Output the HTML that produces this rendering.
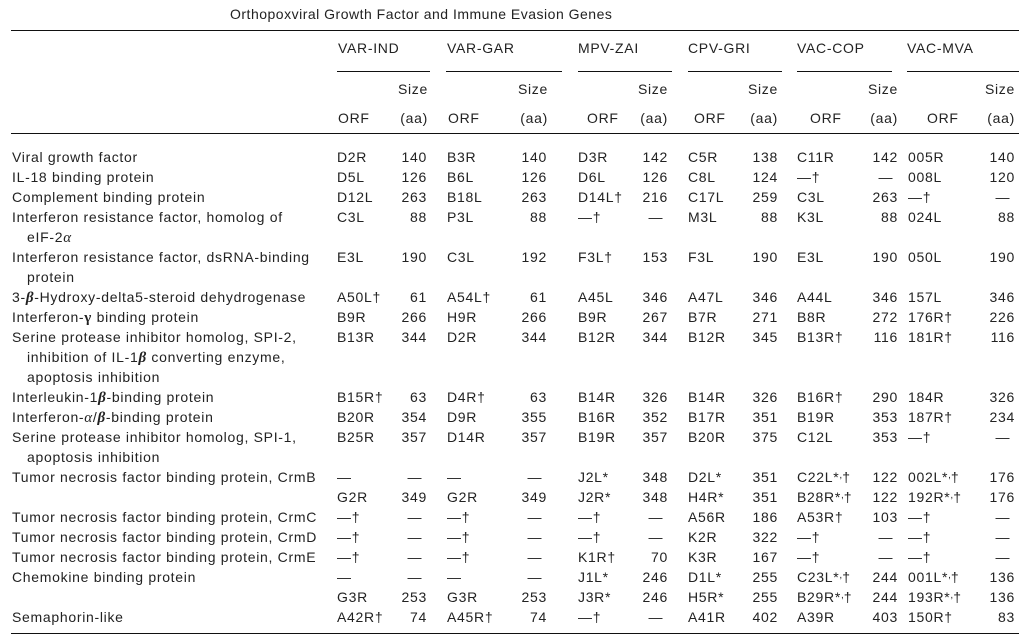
<!DOCTYPE html>
<html>
<head>
<meta charset="utf-8">
<style>
html,body{margin:0;padding:0;background:#fff;}
body{width:1029px;height:638px;position:relative;overflow:hidden;font-family:"Liberation Sans",Arial,sans-serif;color:#222;}
.t{position:absolute;font-size:14px;letter-spacing:0.7px;line-height:16px;white-space:nowrap;}
.row{position:absolute;left:0;width:1029px;height:16px;}
.row>div{position:absolute;top:0;font-size:14px;letter-spacing:0.7px;line-height:16px;white-space:nowrap;}
.rule{position:absolute;height:1.3px;background:#111;}
.n{left:12px}.ni{left:27px}
.o1{left:337px}.o2{left:447px}.o3{left:578px}.o4{left:688px}.o5{left:797px}.o6{left:908px}
.s1{right:602px}.s2{right:482px}.s3{right:361px}.s4{right:251px}.s5{right:131px}.s6{right:14px}
.row>div.d{width:25px;text-align:center;letter-spacing:0}
.g{font-family:"Liberation Serif",serif;font-style:italic;font-size:15px;}
.gb{font-family:"Liberation Serif",serif;font-style:italic;font-weight:bold;font-size:15px;}
.sc{position:relative;top:-4px;font-size:10px;letter-spacing:0;}
</style>
</head>
<body>
<div class="t" style="left:230px;top:6px;letter-spacing:0.5px;">Orthopoxviral Growth Factor and Immune Evasion Genes</div>
<div class="rule" style="left:11px;top:30px;width:1008px;"></div>

<div class="t" style="left:338px;top:40px;">VAR-IND</div>
<div class="t" style="left:447px;top:40px;">VAR-GAR</div>
<div class="t" style="left:578px;top:40px;">MPV-ZAI</div>
<div class="t" style="left:688px;top:40px;">CPV-GRI</div>
<div class="t" style="left:797px;top:40px;">VAC-COP</div>
<div class="t" style="left:907px;top:40px;">VAC-MVA</div>

<div class="rule" style="left:337px;top:71px;width:93px;"></div>
<div class="rule" style="left:446px;top:71px;width:116px;"></div>
<div class="rule" style="left:578px;top:71px;width:94px;"></div>
<div class="rule" style="left:688px;top:71px;width:94px;"></div>
<div class="rule" style="left:797px;top:71px;width:95px;"></div>
<div class="rule" style="left:907px;top:71px;width:112px;"></div>

<div class="t" style="right:601px;top:81px;">Size</div>
<div class="t" style="right:481px;top:81px;">Size</div>
<div class="t" style="right:361px;top:81px;">Size</div>
<div class="t" style="right:251px;top:81px;">Size</div>
<div class="t" style="right:131px;top:81px;">Size</div>
<div class="t" style="right:14px;top:81px;">Size</div>

<div class="t" style="left:338px;top:110px;">ORF</div>
<div class="t" style="left:448px;top:110px;">ORF</div>
<div class="t" style="left:587px;top:110px;">ORF</div>
<div class="t" style="left:694px;top:110px;">ORF</div>
<div class="t" style="left:810px;top:110px;">ORF</div>
<div class="t" style="left:927px;top:110px;">ORF</div>
<div class="t" style="right:601px;top:110px;">(aa)</div>
<div class="t" style="right:481px;top:110px;">(aa)</div>
<div class="t" style="right:361px;top:110px;">(aa)</div>
<div class="t" style="right:251px;top:110px;">(aa)</div>
<div class="t" style="right:131px;top:110px;">(aa)</div>
<div class="t" style="right:14px;top:110px;">(aa)</div>

<div class="rule" style="left:11px;top:133px;width:1008px;"></div>

<!-- row 0 -->
<div class="row" style="top:149px;">
<div class="n">Viral growth factor</div>
<div class="o1">D2R</div><div class="s1">140</div>
<div class="o2">B3R</div><div class="s2">140</div>
<div class="o3">D3R</div><div class="s3">142</div>
<div class="o4">C5R</div><div class="s4">138</div>
<div class="o5">C11R</div><div class="s5">142</div>
<div class="o6">005R</div><div class="s6">140</div>
</div>
<!-- row 1 -->
<div class="row" style="top:169px;">
<div class="n">IL-18 binding protein</div>
<div class="o1">D5L</div><div class="s1">126</div>
<div class="o2">B6L</div><div class="s2">126</div>
<div class="o3">D6L</div><div class="s3">126</div>
<div class="o4">C8L</div><div class="s4">124</div>
<div class="o5">—†</div><div class="s5 d">—</div>
<div class="o6">008L</div><div class="s6">120</div>
</div>
<!-- row 2 -->
<div class="row" style="top:189px;">
<div class="n">Complement binding protein</div>
<div class="o1">D12L</div><div class="s1">263</div>
<div class="o2">B18L</div><div class="s2">263</div>
<div class="o3">D14L†</div><div class="s3">216</div>
<div class="o4">C17L</div><div class="s4">259</div>
<div class="o5">C3L</div><div class="s5">263</div>
<div class="o6">—†</div><div class="s6 d">—</div>
</div>
<!-- row 3 -->
<div class="row" style="top:209px;">
<div class="n">Interferon resistance factor, homolog of</div>
<div class="o1">C3L</div><div class="s1">88</div>
<div class="o2">P3L</div><div class="s2">88</div>
<div class="o3">—†</div><div class="s3 d">—</div>
<div class="o4">M3L</div><div class="s4">88</div>
<div class="o5">K3L</div><div class="s5">88</div>
<div class="o6">024L</div><div class="s6">88</div>
</div>
<div class="row" style="top:229px;"><div class="ni">eIF-2<span class="g">α</span></div></div>
<!-- row 5 -->
<div class="row" style="top:249px;">
<div class="n">Interferon resistance factor, dsRNA-binding</div>
<div class="o1">E3L</div><div class="s1">190</div>
<div class="o2">C3L</div><div class="s2">192</div>
<div class="o3">F3L†</div><div class="s3">153</div>
<div class="o4">F3L</div><div class="s4">190</div>
<div class="o5">E3L</div><div class="s5">190</div>
<div class="o6">050L</div><div class="s6">190</div>
</div>
<div class="row" style="top:269px;"><div class="ni">protein</div></div>
<!-- row 7 -->
<div class="row" style="top:289px;">
<div class="n">3-<span class="gb">β</span>-Hydroxy-delta5-steroid dehydrogenase</div>
<div class="o1">A50L†</div><div class="s1">61</div>
<div class="o2">A54L†</div><div class="s2">61</div>
<div class="o3">A45L</div><div class="s3">346</div>
<div class="o4">A47L</div><div class="s4">346</div>
<div class="o5">A44L</div><div class="s5">346</div>
<div class="o6">157L</div><div class="s6">346</div>
</div>
<!-- row 8 -->
<div class="row" style="top:309px;">
<div class="n">Interferon-<span class="gb" style="font-style:normal;">γ</span> binding protein</div>
<div class="o1">B9R</div><div class="s1">266</div>
<div class="o2">H9R</div><div class="s2">266</div>
<div class="o3">B9R</div><div class="s3">267</div>
<div class="o4">B7R</div><div class="s4">271</div>
<div class="o5">B8R</div><div class="s5">272</div>
<div class="o6">176R†</div><div class="s6">226</div>
</div>
<!-- row 9 -->
<div class="row" style="top:329px;">
<div class="n">Serine protease inhibitor homolog, SPI-2,</div>
<div class="o1">B13R</div><div class="s1">344</div>
<div class="o2">D2R</div><div class="s2">344</div>
<div class="o3">B12R</div><div class="s3">344</div>
<div class="o4">B12R</div><div class="s4">345</div>
<div class="o5">B13R†</div><div class="s5">116</div>
<div class="o6">181R†</div><div class="s6">116</div>
</div>
<div class="row" style="top:349px;"><div class="ni">inhibition of IL-1<span class="gb">β</span> converting enzyme,</div></div>
<div class="row" style="top:369px;"><div class="ni">apoptosis inhibition</div></div>
<!-- row 12 -->
<div class="row" style="top:389px;">
<div class="n">Interleukin-1<span class="gb">β</span>-binding protein</div>
<div class="o1">B15R†</div><div class="s1">63</div>
<div class="o2">D4R†</div><div class="s2">63</div>
<div class="o3">B14R</div><div class="s3">326</div>
<div class="o4">B14R</div><div class="s4">326</div>
<div class="o5">B16R†</div><div class="s5">290</div>
<div class="o6">184R</div><div class="s6">326</div>
</div>
<!-- row 13 -->
<div class="row" style="top:409px;">
<div class="n">Interferon-<span class="g">α</span>/<span class="gb">β</span>-binding protein</div>
<div class="o1">B20R</div><div class="s1">354</div>
<div class="o2">D9R</div><div class="s2">355</div>
<div class="o3">B16R</div><div class="s3">352</div>
<div class="o4">B17R</div><div class="s4">351</div>
<div class="o5">B19R</div><div class="s5">353</div>
<div class="o6">187R†</div><div class="s6">234</div>
</div>
<!-- row 14 -->
<div class="row" style="top:429px;">
<div class="n">Serine protease inhibitor homolog, SPI-1,</div>
<div class="o1">B25R</div><div class="s1">357</div>
<div class="o2">D14R</div><div class="s2">357</div>
<div class="o3">B19R</div><div class="s3">357</div>
<div class="o4">B20R</div><div class="s4">375</div>
<div class="o5">C12L</div><div class="s5">353</div>
<div class="o6">—†</div><div class="s6 d">—</div>
</div>
<div class="row" style="top:449px;"><div class="ni">apoptosis inhibition</div></div>
<!-- row 16 -->
<div class="row" style="top:469px;">
<div class="n">Tumor necrosis factor binding protein, CrmB</div>
<div class="o1">—</div><div class="s1 d">—</div>
<div class="o2">—</div><div class="s2 d">—</div>
<div class="o3">J2L*</div><div class="s3">348</div>
<div class="o4">D2L*</div><div class="s4">351</div>
<div class="o5">C22L*<span class="sc">,</span>†</div><div class="s5">122</div>
<div class="o6">002L*<span class="sc">,</span>†</div><div class="s6">176</div>
</div>
<div class="row" style="top:489px;">
<div class="o1">G2R</div><div class="s1">349</div>
<div class="o2">G2R</div><div class="s2">349</div>
<div class="o3">J2R*</div><div class="s3">348</div>
<div class="o4">H4R*</div><div class="s4">351</div>
<div class="o5">B28R*<span class="sc">,</span>†</div><div class="s5">122</div>
<div class="o6">192R*<span class="sc">,</span>†</div><div class="s6">176</div>
</div>
<!-- row 18 -->
<div class="row" style="top:509px;">
<div class="n">Tumor necrosis factor binding protein, CrmC</div>
<div class="o1">—†</div><div class="s1 d">—</div>
<div class="o2">—†</div><div class="s2 d">—</div>
<div class="o3">—†</div><div class="s3 d">—</div>
<div class="o4">A56R</div><div class="s4">186</div>
<div class="o5">A53R†</div><div class="s5">103</div>
<div class="o6">—†</div><div class="s6 d">—</div>
</div>
<div class="row" style="top:529px;">
<div class="n">Tumor necrosis factor binding protein, CrmD</div>
<div class="o1">—†</div><div class="s1 d">—</div>
<div class="o2">—†</div><div class="s2 d">—</div>
<div class="o3">—†</div><div class="s3 d">—</div>
<div class="o4">K2R</div><div class="s4">322</div>
<div class="o5">—†</div><div class="s5 d">—</div>
<div class="o6">—†</div><div class="s6 d">—</div>
</div>
<div class="row" style="top:549px;">
<div class="n">Tumor necrosis factor binding protein, CrmE</div>
<div class="o1">—†</div><div class="s1 d">—</div>
<div class="o2">—†</div><div class="s2 d">—</div>
<div class="o3">K1R†</div><div class="s3">70</div>
<div class="o4">K3R</div><div class="s4">167</div>
<div class="o5">—†</div><div class="s5 d">—</div>
<div class="o6">—†</div><div class="s6 d">—</div>
</div>
<!-- row 21 -->
<div class="row" style="top:569px;">
<div class="n">Chemokine binding protein</div>
<div class="o1">—</div><div class="s1 d">—</div>
<div class="o2">—</div><div class="s2 d">—</div>
<div class="o3">J1L*</div><div class="s3">246</div>
<div class="o4">D1L*</div><div class="s4">255</div>
<div class="o5">C23L*<span class="sc">,</span>†</div><div class="s5">244</div>
<div class="o6">001L*<span class="sc">,</span>†</div><div class="s6">136</div>
</div>
<div class="row" style="top:589px;">
<div class="o1">G3R</div><div class="s1">253</div>
<div class="o2">G3R</div><div class="s2">253</div>
<div class="o3">J3R*</div><div class="s3">246</div>
<div class="o4">H5R*</div><div class="s4">255</div>
<div class="o5">B29R*<span class="sc">,</span>†</div><div class="s5">244</div>
<div class="o6">193R*<span class="sc">,</span>†</div><div class="s6">136</div>
</div>
<!-- row 23 -->
<div class="row" style="top:609px;">
<div class="n">Semaphorin-like</div>
<div class="o1">A42R†</div><div class="s1">74</div>
<div class="o2">A45R†</div><div class="s2">74</div>
<div class="o3">—†</div><div class="s3 d">—</div>
<div class="o4">A41R</div><div class="s4">402</div>
<div class="o5">A39R</div><div class="s5">403</div>
<div class="o6">150R†</div><div class="s6">83</div>
</div>

<div class="rule" style="left:11px;top:633px;width:1008px;"></div>
</body>
</html>
